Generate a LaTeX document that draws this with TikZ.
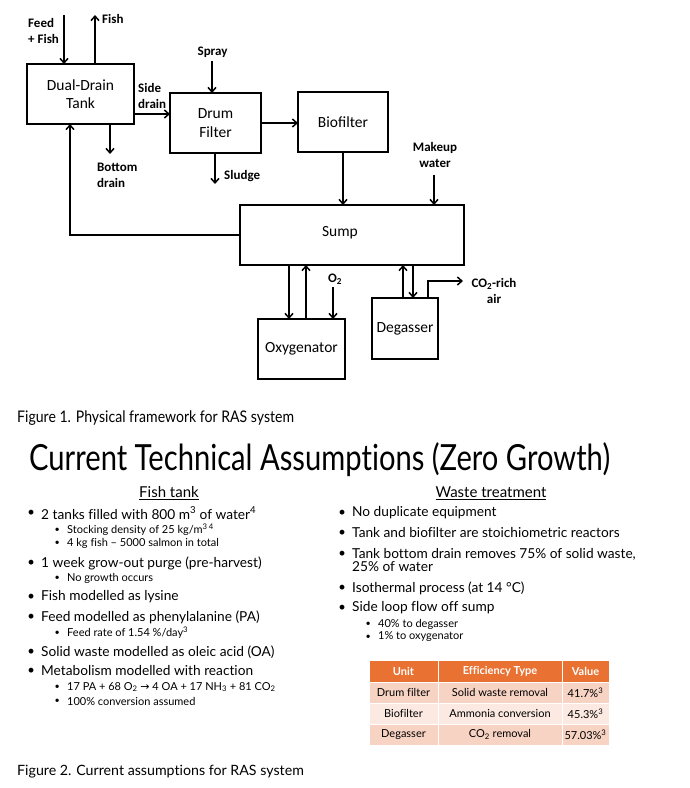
\documentclass[tikz,border=0pt]{standalone}
\usepackage{fontspec}
\setmainfont{Carlito}
\newfontfamily\latofont[Ligatures=NoCommon]{Lato}
\newfontfamily\narrowfont[FakeStretch=0.81, Ligatures=NoCommon]{Lato}
\newfontfamily\capfont[FakeStretch=0.88, Ligatures=NoCommon]{Lato}
\newfontfamily\symfont{DejaVu Sans}
\usetikzlibrary{arrows.meta}
\definecolor{hdrorange}{HTML}{E97132}
\definecolor{rowdark}{HTML}{F7D3C4}
\definecolor{rowlight}{HTML}{FBE9E2}
\tikzset{
  unit/.style={draw, line width=1.5pt, inner sep=0pt, outer sep=0pt, align=center,
    font=\fontsize{15.5}{18.5}\selectfont},
  flow/.style={line width=1.5pt, -{Straight Barb[length=4.5pt,width=8pt]}},
  tag/.style={inner sep=0pt, align=left, font=\bfseries\fontsize{13}{16}\selectfont},
  lvlone/.style={anchor=west, inner sep=0pt, font=\latofont\fontsize{13.7}{15}\selectfont,
    label={[inner sep=0pt, label distance=6pt, font=\latofont\fontsize{13}{15}\selectfont]left:\textbullet}},
  lvltwo/.style={anchor=west, inner sep=0pt, font=\latofont\fontsize{11}{12}\selectfont,
    label={[inner sep=0pt, label distance=7pt, font=\latofont\fontsize{9}{11}\selectfont]left:\textbullet}},
  cell/.style={fill=rowdark, draw=white, line width=0.8pt, minimum height=21pt, inner sep=0pt,
    font=\latofont\fontsize{11}{12}\selectfont},
  hdr/.style={cell, fill=hdrorange, minimum height=22pt, text=white,
    font=\latofont\bfseries\fontsize{11}{12}\selectfont}
}
\begin{document}
\begin{tikzpicture}[x=1pt, y=-1pt, line cap=butt, line join=miter]
\useasboundingbox[fill=white] (0,0) rectangle (690,788);
% Process units
\node[unit, minimum width=107pt, minimum height=60pt] (tank) at (80.5,94) {Dual-Drain\\Tank};
\node[unit, minimum width=91pt, minimum height=60pt] (drum) at (215.5,123) {Drum\\Filter};
\node[unit, minimum width=90pt, minimum height=60pt] (bio) at (343,122) {Biofilter};
\node[unit, minimum width=224pt, minimum height=60pt] (sump) at (352,235) {};
\node[font=\fontsize{15.5}{18.5}\selectfont] (sumptext) at (340,233) {Sump};
\node[unit, minimum width=87pt, minimum height=60pt] (oxy) at (301.5,349) {Oxygenator};
\node[unit, minimum width=66pt, minimum height=61pt] (degas) at (405,328.5) {Degasser};
% Free ends of the streams
\coordinate (feedin) at (64,15);
\coordinate (fishout) at (95,15);
\coordinate (sidey) at (150,114);
\coordinate (bottomout) at (110,154);
\coordinate (returnx) at (70,0);
\coordinate (sprayin) at (212,61);
\coordinate (sludgeout) at (215,184);
\coordinate (makeupin) at (434,175);
\coordinate (oxydown) at (289,0);
\coordinate (oxyup) at (306,0);
\coordinate (o2in) at (333,287);
\coordinate (degup) at (403,0);
\coordinate (degdown) at (413,0);
\coordinate (co2x) at (428,0);
\coordinate (co2out) at (463,281);
% Streams
\draw[flow] (feedin) -- (feedin |- tank.north);
\draw[flow] (fishout |- tank.north) -- (fishout);
\draw[flow] (tank.east |- sidey) -- (drum.west |- sidey);
\draw[flow] (bottomout |- tank.south) -- (bottomout);
\draw[flow] (sump.west) -| (returnx |- tank.south);
\draw[flow] (sprayin) -- (sprayin |- drum.north);
\draw[flow] (sludgeout |- drum.south) -- (sludgeout);
\draw[flow] (drum.east) -- (drum.east -| bio.west);
\draw[flow] (bio.south) -- (bio.south |- sump.north);
\draw[flow] (makeupin) -- (makeupin |- sump.north);
\draw[flow] (oxydown |- sump.south) -- (oxydown |- oxy.north);
\draw[flow] (oxyup |- oxy.north) -- (oxyup |- sump.south);
\draw[flow] (o2in) -- (o2in |- oxy.north);
\draw[flow] (degup |- degas.north) -- (degup |- sump.south);
\draw[flow] (degdown |- sump.south) -- (degdown |- degas.north);
\draw[flow] (co2x |- degas.north) |- (co2out);
% Stream labels
\node[tag, anchor=west] (feedlbl) at (28,31) {Feed\\+ Fish};
\node[tag, anchor=west] (fishlbl) at (102,19) {Fish};
\node[tag, anchor=west] (sidelbl) at (138,96) {Side\\drain};
\node[tag, anchor=west] (bottomlbl) at (97,175) {Bottom\\drain};
\node[tag] (spraylbl) at (212.5,52) {Spray};
\node[tag, anchor=west] (sludgelbl) at (224,176) {Sludge};
\node[tag, align=center] (makeuplbl) at (435,155) {Makeup\\water};
\node[tag] (o2lbl) at (335,279) {O\textsubscript{2}};
\node[tag, align=center] (co2lbl) at (494,291) {CO\textsubscript{2}-rich\\air};
% Captions and title
\node[anchor=west, inner sep=0pt, font=\capfont\fontsize{16}{18}\selectfont] (cap1) at (17,418) {Figure 1. Physical framework for RAS system};
\node[anchor=west, inner sep=0pt, font=\narrowfont\fontsize{36}{40}\selectfont] (title) at (29,460) {Current Technical Assumptions (Zero Growth)};
% Fish tank column
\node[font=\latofont\fontsize{15}{18}\selectfont] (fishhead) at (169,493) {\underline{Fish tank}};
\node[lvlone] (f1) at (41,513) {2 tanks filled with 800 m\textsuperscript{3} of water\textsuperscript{4}};
\node[lvltwo] (f1a) at (67,530) {Stocking density of 25 kg/m\textsuperscript{3 4}};
\node[lvltwo] (f1b) at (67,543) {4 kg fish – 5000 salmon in total};
\node[lvlone] (f2) at (41,563) {1 week grow-out purge (pre-harvest)};
\node[lvltwo] (f2a) at (67,578) {No growth occurs};
\node[lvlone] (f3) at (41,597) {Fish modelled as lysine};
\node[lvlone] (f4) at (41,617) {Feed modelled as phenylalanine (PA)};
\node[lvltwo] (f4a) at (67,633) {Feed rate of 1.54 \%/day\textsuperscript{3}};
\node[lvlone] (f5) at (41,652) {Solid waste modelled as oleic acid (OA)};
\node[lvlone] (f6) at (41,671) {Metabolism modelled with reaction};
\node[lvltwo] (f6a) at (67,687) {17 PA + 68 O\textsubscript{2} {\symfont →} 4 OA + 17 NH\textsubscript{3} + 81 CO\textsubscript{2}};
\node[lvltwo] (f6b) at (67,701) {100\% conversion assumed};
% Waste treatment column
\node[font=\latofont\fontsize{15}{18}\selectfont] (wastehead) at (491,493) {\underline{Waste treatment}};
\node[lvlone] (w1) at (352,513) {No duplicate equipment};
\node[lvlone] (w2) at (352,533) {Tank and biofilter are stoichiometric reactors};
\node[lvlone] (w3) at (352,554) {Tank bottom drain removes 75\% of solid waste,};
\node[anchor=west, inner sep=0pt, font=\latofont\fontsize{13.7}{15}\selectfont] (w3b) at (352,567) {25\% of water};
\node[lvlone] (w4) at (352,588) {Isothermal process (at 14 °C)};
\node[lvlone] (w5) at (352,608) {Side loop flow off sump};
\node[lvltwo] (w5a) at (378,624) {40\% to degasser};
\node[lvltwo] (w5b) at (378,637) {1\% to oxygenator};
% Efficiency table
\node[hdr, minimum width=69pt] (h1) at (403.5,671) {Unit};
\node[hdr, minimum width=124pt] (h2) at (500,671) {Efficiency Type};
\node[hdr, minimum width=47pt] (h3) at (585.5,671) {Value};
\node[cell, minimum width=69pt] (r1a) at (403.5,692.5) {Drum filter};
\node[cell, minimum width=124pt] (r1b) at (500,692.5) {Solid waste removal};
\node[cell, minimum width=47pt] (r1c) at (585.5,692.5) {41.7\%\textsuperscript{3}};
\node[cell, fill=rowlight, minimum width=69pt] (r2a) at (403.5,713.5) {Biofilter};
\node[cell, fill=rowlight, minimum width=124pt] (r2b) at (500,713.5) {Ammonia conversion};
\node[cell, fill=rowlight, minimum width=47pt] (r2c) at (585.5,713.5) {45.3\%\textsuperscript{3}};
\node[cell, minimum width=69pt] (r3a) at (403.5,734.5) {Degasser};
\node[cell, minimum width=124pt] (r3b) at (500,734.5) {CO\textsubscript{2} removal};
\node[cell, minimum width=47pt] (r3c) at (585.5,734.5) {57.03\%\textsuperscript{3}};
% Caption
\node[anchor=west, inner sep=0pt, font=\latofont\fontsize{14.2}{16}\selectfont] (cap2) at (17,772) {Figure 2. Current assumptions for RAS system};
\end{tikzpicture}
\end{document}
